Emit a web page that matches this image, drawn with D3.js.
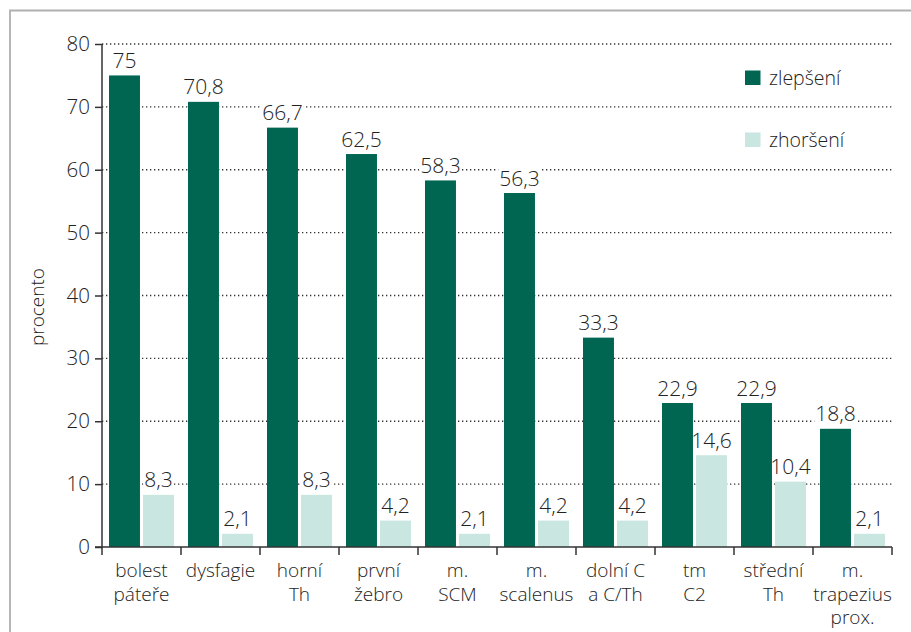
<!DOCTYPE html>
<html><head><meta charset="utf-8">
<script src="https://cdn.jsdelivr.net/npm/d3@7"></script>
<style>
html,body{margin:0;padding:0;background:#fff;}
svg text{font-family:"Open Sans",sans-serif;fill:#222;}
</style></head>
<body>
<svg id="chart" width="911" height="632"></svg>
<script>
const categories = [
  ["bolest","páteře"],["dysfagie"],["horní","Th"],["první","žebro"],["m.","SCM"],
  ["m.","scalenus"],["dolní C","a C/Th"],["tm","C2"],["střední","Th"],["m.","trapezius","prox."]
];
const zlepseni = [75, 70.8, 66.7, 62.5, 58.3, 56.3, 33.3, 22.9, 22.9, 18.8];
const zhorseni = [8.3, 2.1, 8.3, 4.2, 2.1, 4.2, 4.2, 14.6, 10.4, 2.1];
const seriesNames = ["zlepšení", "zhoršení"];
const colors = ["#006652", "#cae6e0"];
const yTicks = [0,10,20,30,40,50,60,70,80];

(function(){
const svg = d3.select("#chart");
const mLeft = 102, mRight = 892, mTop = 44, mBottom = 547;
const fmt = v => String(v).replace(".", ",");

// frame (top + left)
svg.append("path").attr("d","M10,632 L10,10.5 L911,10.5").attr("fill","none").attr("stroke","#b0b0b0").attr("stroke-width",1.8);

const x = d3.scaleBand().domain(d3.range(categories.length)).range([mLeft, mRight]).paddingInner(0).paddingOuter(0);
const inner = d3.scaleBand().domain([0,1]).range([7, x.bandwidth()-7]).paddingInner(0.09);
const y = d3.scaleLinear().domain([0,80]).range([mBottom, mTop]);

// gridlines
svg.append("g").selectAll("line").data(yTicks.filter(t=>t>0)).join("line")
  .attr("x1", mLeft).attr("x2", mRight).attr("y1", d=>y(d)).attr("y2", d=>y(d))
  .attr("stroke","#333").attr("stroke-width",1.3).attr("stroke-dasharray","1.3,2.7");

const gMask = svg.append("g");
const gBars = svg.append("g");
const gLab = svg.append("g");

// legend
seriesNames.forEach((n,i)=>{
  const ly = 85 + i*62;
  gLab.append("rect").attr("x",745).attr("y",ly-14.5).attr("width",15.5).attr("height",14.5).attr("fill",colors[i]);
  gLab.append("text").attr("x",769).attr("y",ly).attr("font-size",19.5).attr("font-weight",300).text(n);
});

const data = [zlepseni, zhorseni];
data.forEach((vals, s)=>{
  gBars.selectAll(null).data(vals).join("rect")
    .attr("x",(d,i)=>x(i)+inner(s)).attr("width",inner.bandwidth())
    .attr("y",d=>y(d)).attr("height",d=>y(0)-y(d)).attr("fill",colors[s]);
});

// value labels; white background masks gridlines only (drawn under bars)
data.forEach((vals, s)=>{
  vals.forEach((d,i)=>{
    const cx = x(i)+inner(s)+inner.bandwidth()/2;
    const t = gLab.append("text").attr("x",cx).attr("y",y(d)-7.5).attr("text-anchor","middle")
      .attr("font-size",21).attr("font-weight",300).text(fmt(d));
    const bb = t.node().getBBox();
    gMask.append("rect").attr("x",bb.x-1).attr("y",bb.y+4).attr("width",bb.width+2).attr("height",bb.height-7).attr("fill","#fff");
  });
});

// y axis
const yAxis = d3.axisLeft(y).tickValues(yTicks).tickSize(7).tickPadding(5);
const ga = svg.append("g").attr("transform",`translate(${mLeft},0)`).call(yAxis);
ga.select(".domain").attr("stroke","#333").attr("stroke-width",1.5).attr("d",`M-7,${mBottom}H0V${mTop}`);
ga.selectAll(".tick line").attr("stroke","#333").attr("stroke-width",1.5);
ga.selectAll(".tick text").attr("font-size",20.5).attr("font-weight",300).attr("fill","#222").attr("font-family","Open Sans");

// x axis
const xb = d3.range(categories.length+1).map(i=> i<categories.length ? x(i) : mRight);
svg.append("line").attr("x1",mLeft).attr("x2",mRight).attr("y1",mBottom).attr("y2",mBottom).attr("stroke","#333").attr("stroke-width",1.5);
svg.append("g").selectAll("line").data(xb).join("line")
  .attr("x1",d=>d).attr("x2",d=>d).attr("y1",mBottom).attr("y2",mBottom+8).attr("stroke","#333").attr("stroke-width",1.5);

const gx = svg.append("g");
categories.forEach((lines,i)=>{
  const t = gx.append("text").attr("x",x(i)+x.bandwidth()/2).attr("y",577).attr("text-anchor","middle").attr("font-size",19).attr("font-weight",300);
  lines.forEach((l,k)=>t.append("tspan").attr("x",x(i)+x.bandwidth()/2).attr("y",577+k*23.5).text(l));
});

// y label
svg.append("text").attr("transform","translate(44,307) rotate(-90)").attr("text-anchor","middle").attr("font-size",19).attr("font-weight",300).text("procento");
})();
</script>
</body></html>
